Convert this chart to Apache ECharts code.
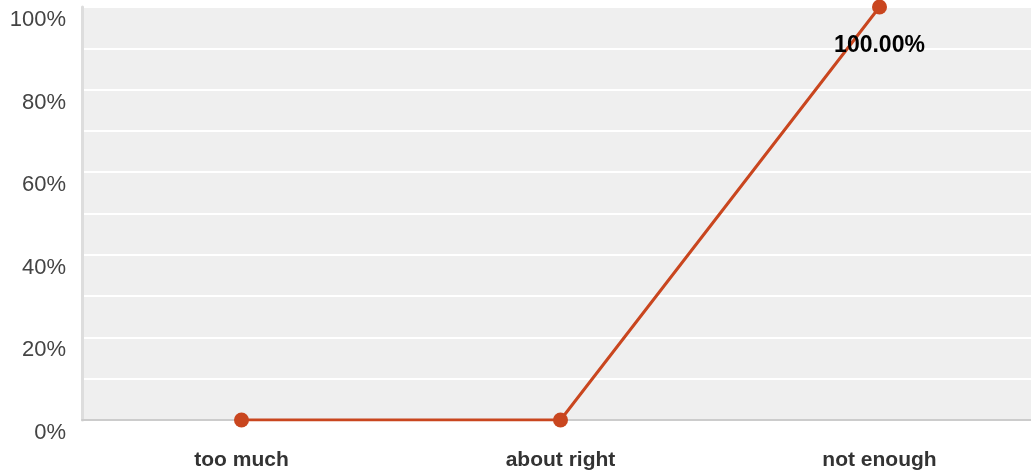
<!DOCTYPE html>
<html>
<head>
<meta charset="utf-8">
<script src="https://cdn.jsdelivr.net/npm/echarts@6/dist/echarts.min.js"></script>
<style>
  html, body { margin: 0; padding: 0; background: #fff; overflow: hidden; }
  /* the plot runs a little past the right edge of the window */
  #chart { width: 1039px; height: 476px; }
</style>
</head>
<body>
<div id="chart"></div>
<script>
// Survey answers and the share of respondents per answer (percent)
const categories = ['too much', 'about right', 'not enough'];
const shares = [0, 0, 100];
// Only answers with a non-zero share carry a value label
const labelled = [false, false, true];

const FONT = '"Liberation Sans", Arial, sans-serif';

const chart = echarts.init(document.getElementById('chart'), null, { renderer: 'canvas' });

chart.setOption({
  animation: false,
  grid: { left: 82, right: 0, top: 7, bottom: 56, show: true, backgroundColor: '#efefef', borderWidth: 0 },
  xAxis: {
    type: 'category',
    data: categories,
    boundaryGap: true,
    axisLine: { show: true, lineStyle: { color: '#cccccc', width: 2 } },
    axisTick: { show: false },
    axisLabel: { fontFamily: FONT, fontSize: 21, fontWeight: 'bold', color: '#333333', margin: 30 }
  },
  yAxis: {
    type: 'value',
    min: 0,
    max: 100,
    interval: 10,
    axisLine: { show: true, lineStyle: { color: '#dddddd', width: 3 } },
    axisTick: { show: false },
    splitLine: { show: true, lineStyle: { color: '#ffffff', width: 2 } },
    axisLabel: {
      fontFamily: FONT,
      fontSize: 22,
      color: '#444444',
      margin: 16,
      verticalAlign: 'top',
      lineHeight: 22,
      padding: [2, 0, 0, 0],
      formatter: v => (v % 20 === 0 ? v + '%' : '')
    }
  },
  series: [{
    type: 'line',
    data: shares.map((v, i) => ({
      value: v,
      label: {
        show: labelled[i],
        position: 'bottom',
        distance: 20,
        formatter: p => p.value.toFixed(2) + '%',
        fontFamily: FONT,
        fontSize: 23,
        fontWeight: 'bold',
        color: '#000000'
      }
    })),
    symbol: 'circle',
    symbolSize: 15,
    itemStyle: { color: '#c9461f' },
    lineStyle: { color: '#c9461f', width: 3 },
    z: 5
  }]
});
</script>
</body>
</html>
